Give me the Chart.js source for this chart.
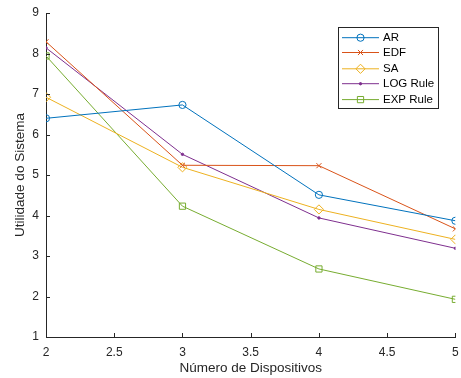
<!DOCTYPE html>
<html>
<head>
<meta charset="utf-8">
<script src="https://cdn.jsdelivr.net/npm/chart.js@4"></script>
<style>
  html, body { margin: 0; padding: 0; background: #fff; }
  #wrap { width: 461px; height: 378px; }
</style>
</head>
<body>
<div id="wrap"><canvas id="grafico" width="461" height="378"></canvas></div>
<script>
// dados
const dispositivos = [2, 3, 4, 5];
const utilAR  = [6.40, 6.73, 4.51, 3.87];
const utilEDF = [8.29, 5.24, 5.23, 3.67];
const utilSA  = [6.92, 5.19, 4.15, 3.41];
const utilLOG = [8.14, 5.51, 3.94, 3.19];
const utilEXP = [7.94, 4.23, 2.68, 1.93];
const seriesNomes = ['AR', 'EDF', 'SA', 'LOG Rule', 'EXP Rule'];
const xTicks = [2, 2.5, 3, 3.5, 4, 4.5, 5];
const yTicks = [1, 2, 3, 4, 5, 6, 7, 8, 9];

const cores = ['#0072BD', '#D95319', '#EDB120', '#7E2F8E', '#77AC30'];
const estilos = [
  { pointStyle: 'circle',   radius: 3.6, fill: false },
  { pointStyle: 'crossRot', radius: 3.6, fill: false },
  { pointStyle: 'rectRot',  radius: 4.6, fill: false },
  { pointStyle: 'circle',   radius: 1.2, fill: true },
  { pointStyle: 'rect',     radius: 4.4, fill: false }
];
const valores = [utilAR, utilEDF, utilSA, utilLOG, utilEXP];

const FONTE = 'Liberation Sans, Arial, Helvetica, sans-serif';
const COR_EIXO = '#262626';

function montarDataset(i) {
  return {
    label: seriesNomes[i],
    data: dispositivos.map((x, k) => ({ x: x, y: valores[i][k] })),
    borderColor: cores[i],
    backgroundColor: estilos[i].fill ? cores[i] : 'rgba(0,0,0,0)',
    pointBorderColor: cores[i],
    pointBackgroundColor: estilos[i].fill ? cores[i] : 'rgba(0,0,0,0)',
    pointStyle: estilos[i].pointStyle,
    pointRadius: estilos[i].radius,
    pointHoverRadius: estilos[i].radius,
    pointBorderWidth: 1,
    borderWidth: 1,
    tension: 0,
    fill: false
  };
}

// ticks para dentro (estilo MATLAB)
const ticksInternos = {
  id: 'ticksInternos',
  afterDraw(chart) {
    const { ctx, chartArea, scales } = chart;
    ctx.save();
    ctx.strokeStyle = COR_EIXO;
    ctx.lineWidth = 1;
    ctx.beginPath();
    xTicks.forEach(v => {
      const px = Math.round(scales.x.getPixelForValue(v)) + 0.5;
      ctx.moveTo(px, chartArea.bottom);
      ctx.lineTo(px, chartArea.bottom - 4);
    });
    yTicks.forEach(v => {
      const py = Math.round(scales.y.getPixelForValue(v)) + 0.5;
      ctx.moveTo(chartArea.left, py);
      ctx.lineTo(chartArea.left + 4, py);
    });
    ctx.stroke();
    ctx.restore();
  }
};

// legenda desenhada à mão, com linha + marcador
const legendaCaixa = {
  id: 'legendaCaixa',
  afterDraw(chart) {
    const ctx = chart.ctx;
    const bx = 338.5, by = 27.5, bw = 100, bh = 81;
    ctx.save();
    ctx.fillStyle = '#fff';
    ctx.fillRect(bx, by, bw, bh);
    ctx.strokeStyle = COR_EIXO;
    ctx.lineWidth = 1;
    ctx.strokeRect(bx, by, bw, bh);
    const linhasY = [37.7, 52.5, 68.8, 83.7, 99.6];
    chart.data.datasets.forEach((ds, i) => {
      const y = linhasY[i];
      ctx.strokeStyle = ds.borderColor;
      ctx.lineWidth = 1;
      ctx.beginPath();
      ctx.moveTo(342, y);
      ctx.lineTo(379, y);
      ctx.stroke();
      ctx.fillStyle = ds.pointBackgroundColor;
      ctx.strokeStyle = ds.borderColor;
      Chart.helpers.drawPoint(ctx, {
        pointStyle: ds.pointStyle,
        radius: ds.pointRadius,
        borderWidth: 1,
        rotation: 0
      }, 360.5, y);
      ctx.fillStyle = '#000';
      ctx.font = '11.5px ' + FONTE;
      ctx.textBaseline = 'middle';
      ctx.textAlign = 'left';
      ctx.fillText(ds.label, 383, y + 0.5);
    });
    ctx.restore();
  }
};

const grafico = new Chart(document.getElementById('grafico'), {
  type: 'line',
  data: { datasets: valores.map((_, i) => montarDataset(i)) },
  options: {
    responsive: false,
    animation: false,
    layout: { padding: { top: 13, right: 5, left: 0, bottom: 0 } },
    plugins: {
      legend: { display: false },
      tooltip: { enabled: false }
    },
    scales: {
      x: {
        type: 'linear',
        min: 2, max: 5,
        afterFit(scale) {
          scale.height = 41;
          scale.paddingLeft = 0;
          scale.paddingRight = 0;
        },
        afterBuildTicks(scale) { scale.ticks = xTicks.map(v => ({ value: v })); },
        grid: { display: false, drawTicks: false },
        border: { display: true, color: COR_EIXO, width: 1 },
        ticks: {
          color: COR_EIXO,
          padding: 8,
          font: { family: FONTE, size: 12 },
          callback: v => String(v)
        },
        title: {
          display: true,
          text: 'Número de Dispositivos',
          color: COR_EIXO,
          font: { family: FONTE, size: 13.5 },
          padding: { top: 0, bottom: 2 }
        }
      },
      y: {
        type: 'linear',
        min: 1, max: 9,
        afterFit(scale) {
          scale.width = 46;
          scale.paddingTop = 0;
          scale.paddingBottom = 0;
        },
        afterBuildTicks(scale) { scale.ticks = yTicks.map(v => ({ value: v })); },
        grid: { display: false, drawTicks: false },
        border: { display: true, color: COR_EIXO, width: 1 },
        ticks: {
          color: COR_EIXO,
          padding: 7,
          font: { family: FONTE, size: 12 },
          callback: v => String(v)
        },
        title: {
          display: true,
          text: 'Utilidade do Sistema',
          color: COR_EIXO,
          font: { family: FONTE, size: 13.5 },
          padding: { top: 12, bottom: 0 }
        }
      }
    }
  },
  plugins: [ticksInternos, legendaCaixa]
});
</script>
</body>
</html>
